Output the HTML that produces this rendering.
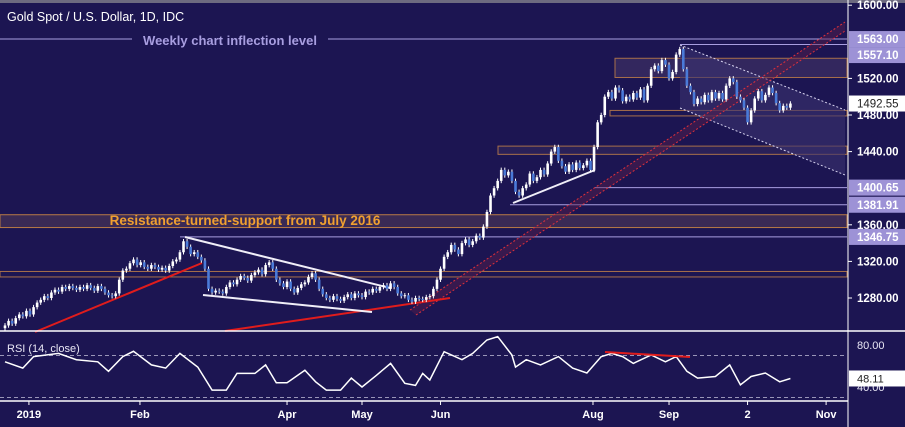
<!DOCTYPE html>
<html><head><meta charset="utf-8"><style>
html,body{margin:0;padding:0;background:#1c1552;}
svg{display:block;font-family:"Liberation Sans",sans-serif;}
</style></head><body>
<svg id="chart" width="905" height="427" viewBox="0 0 905 427">
<rect x="0" y="0" width="905" height="427" fill="#1c1552"/>
<rect x="0" y="0" width="905" height="3" fill="#6d6a80"/>
<g id="annot"></g>
<g id="candles"></g>
<g id="rsi"></g>
<g id="axis"></g>
</svg>
<script>
const NS="http://www.w3.org/2000/svg";
const closes=[1250,1255,1252,1258,1262,1260,1266,1262,1270,1275,1278,1282,1280,1286,1289,1287,1292,1290,1293,1291,1289,1292,1290,1294,1291,1288,1293,1290,1286,1283,1282,1285,1300,1310,1312,1318,1322,1316,1319,1314,1312,1316,1314,1311,1313,1310,1315,1320,1322,1330,1342,1336,1328,1330,1325,1321,1312,1290,1286,1288,1287,1285,1292,1297,1295,1300,1304,1302,1299,1305,1308,1311,1306,1316,1319,1312,1300,1296,1292,1298,1290,1286,1291,1295,1297,1303,1307,1300,1290,1284,1280,1278,1282,1279,1277,1281,1284,1280,1285,1283,1281,1287,1286,1290,1288,1292,1294,1290,1296,1292,1285,1282,1283,1278,1276,1280,1279,1278,1281,1282,1290,1300,1312,1325,1330,1338,1333,1328,1340,1344,1338,1342,1348,1346,1358,1374,1392,1400,1408,1420,1414,1418,1408,1396,1392,1400,1404,1416,1408,1412,1420,1415,1427,1440,1445,1430,1424,1418,1426,1420,1428,1422,1425,1430,1420,1445,1472,1480,1500,1505,1498,1510,1507,1495,1500,1497,1504,1499,1508,1496,1512,1530,1534,1528,1540,1535,1520,1527,1546,1552,1530,1512,1505,1492,1498,1494,1502,1496,1505,1498,1504,1497,1512,1520,1516,1500,1496,1488,1472,1485,1498,1506,1496,1502,1510,1504,1493,1485,1490,1488,1492.55];
const rsiDays=[0,5,8,15,20,26,29,33,36,41,45,49,54,58,62,65,70,73,76,79,84,87,90,94,97,100,104,108,112,115,117,119,123,128,131,135,138,142,143,146,150,155,159,163,167,170,173,176,181,185,188,191,194,199,203,206,209,213,217,220];
const rsiVals=[64,58,69,72,66,64,55,69,74,61,58,72,59,37,37,53,53,61,44,44,56,45,37,37,48.5,40,51,62.5,43.5,41.5,53,46.7,73.6,66,72,84.8,88,70.5,59,66,61,69,58,53.3,69,72,69,62.5,70.5,64,69,55,48.5,50,61,42,50,53.3,45,48.11];
const monthLabels=["2019","Feb","Apr","May","Jun","Aug","Sep","2","Nov"];
const monthDays=[6.7,37.8,79,100,122,164.7,186,208,230];
const priceTicks=[1600,1520,1480,1440,1360,1320,1280];
const levelLabels=[1563,1557.10,1400.65,1381.91,1346.75];
const rsiTicks=[80,40];

const X=i=>5+i*3.57;
const Y=p=>298-(p-1280)*0.915;
const RY=v=>345-(v-80)*1.05;

function el(tag,attrs,parent){const e=document.createElementNS(NS,tag);for(const k in attrs)e.setAttribute(k,attrs[k]);parent.appendChild(e);return e;}
const ann=document.getElementById('annot'),cg=document.getElementById('candles'),rg=document.getElementById('rsi'),ax=document.getElementById('axis');

let b;
b=el('rect',{x:0,y:Y(1371),width:847,height:Y(1357)-Y(1371),fill:'#3a2a55',stroke:'#b87a45','stroke-width':1},ann);


b=el('rect',{x:0,y:Y(1309),width:847,height:Y(1303)-Y(1309),fill:'none',stroke:'#a8704a','stroke-width':1},ann);


b=el('rect',{x:498,y:Y(1446),width:349,height:Y(1437)-Y(1446),fill:'#2a2058',stroke:'#a8704a','stroke-width':1},ann);


b=el('rect',{x:610,y:Y(1485),width:237,height:Y(1479)-Y(1485),fill:'none',stroke:'#a8704a','stroke-width':1},ann);


b=el('rect',{x:615,y:Y(1542),width:232,height:Y(1521)-Y(1542),fill:'#33275e',stroke:'#a8704a','stroke-width':1},ann);


b=el('polygon',{points:"680,45 845,110 845,175 680,108",fill:'#3a3270',opacity:0.6},ann);


[[680,45,845,110],[680,108,845,175]].forEach(l=>{const e=el('line',{x1:l[0],y1:l[1],x2:l[2],y2:l[3],stroke:'#d8d4f0','stroke-width':1,'stroke-dasharray':'2,2'},ann);

});
[[0,1563],[680,1557.10],[595,1400.65],[510,1381.91],[180,1346.75]].forEach(l=>{const e=el('line',{x1:l[0],y1:Y(l[1]),x2:847,y2:Y(l[1]),stroke:'#a89ee0','stroke-width':1},ann);

});
b=el('polygon',{points:"410,310 845,22 845,31 416,315",fill:'#5a1f4a',opacity:0.45},ann);


[[410,310,845,22],[416,315,845,31]].forEach(l=>{const e=el('line',{x1:l[0],y1:l[1],x2:l[2],y2:l[3],stroke:'#e0303a','stroke-width':1,'stroke-dasharray':'2,2'},ann);

});
[[35,332,202,263,'#e01c1c'],[225,331,450,298,'#e01c1c'],[185,237,390,288,'#f0eef8'],[203,295,372,312,'#f0eef8'],[513,203,595,170,'#f0eef8']].forEach(l=>{const e=el('line',{x1:l[0],y1:l[1],x2:l[2],y2:l[3],stroke:l[4],'stroke-width':2},ann);

});
let t=el('rect',{x:132,y:33,width:196,height:14,fill:'#1c1552'},ann);
t=el('text',{x:230,y:45,'text-anchor':'middle',fill:'#a89ee0','font-size':13,'font-weight':'bold'},ann);t.textContent='Weekly chart inflection level';


t=el('text',{x:245,y:225,'text-anchor':'middle',fill:'#f0a030','font-size':13.5,'font-weight':'bold'},ann);t.textContent='Resistance-turned-support from July 2016';


t=el('text',{x:7,y:21,fill:'#ffffff','font-size':12.5},ann);t.textContent='Gold Spot / U.S. Dollar, 1D, IDC';



closes.forEach((c,i)=>{
  const o=i?closes[i-1]:c-3;
  const up=c>=o, col=up?'#ffffff':'#4a7ad8';
  const x=X(i), hi=Math.max(o,c)+2.5, lo=Math.min(o,c)-2.5;
  const w=el('line',{x1:x,y1:Y(hi),x2:x,y2:Y(lo),stroke:'#ffffff','stroke-width':1},cg);
  
  
  const r=el('rect',{x:x-1.3,y:Y(Math.max(o,c)),width:2.6,height:Math.max(1,Math.abs(Y(o)-Y(c))),fill:col},cg);
  
  
});

let s=el('line',{x1:0,y1:331,x2:905,y2:331,stroke:'#ffffff','stroke-width':1.5},rg);


s=el('line',{x1:0,y1:401,x2:848,y2:401,stroke:'#ffffff','stroke-width':1.5},rg);


[70,30].forEach(v=>{const e=el('line',{x1:0,y1:RY(v),x2:847,y2:RY(v),stroke:'#9a96b8','stroke-width':1,'stroke-dasharray':'4,3'},rg);

});
const pts=rsiDays.map((d,i)=>X(d).toFixed(1)+','+RY(rsiVals[i]).toFixed(1)).join(' ');
let rl=el('polyline',{points:pts,fill:'none',stroke:'#ffffff','stroke-width':1.5},rg);


rl=el('line',{x1:605,y1:352,x2:690,y2:357,stroke:'#e01c1c','stroke-width':2},rg);


t=el('text',{x:7,y:352,fill:'#e8e6f4','font-size':11},rg);t.textContent='RSI (14, close)';



s=el('line',{x1:848,y1:0,x2:848,y2:427,stroke:'#ffffff','stroke-width':1},ax);


priceTicks.forEach(p=>{
  const y=Y(p);
  let k=el('line',{x1:848,y1:y,x2:852,y2:y,stroke:'#fff'},ax);
  
  
  k=el('text',{x:857,y:y+4,fill:'#ffffff','font-size':11.5,'font-weight':'bold'},ax);k.textContent=p.toFixed(2);
  
  
});
let prevY=-100;
levelLabels.forEach(p=>{
  let y=Y(p);
  if(y-prevY<16) y=prevY+16;
  prevY=y;
  let k=el('rect',{x:849,y:y-8,width:56,height:16,fill:'#9d92d6'},ax);
  
  
  k=el('text',{x:857,y:y+4,fill:'#ffffff','font-size':11.5,'font-weight':'bold'},ax);k.textContent=p.toFixed(2);
  
  
});
const last=closes[closes.length-1];
let lb=el('rect',{x:849,y:Y(last)-8,width:56,height:16,fill:'#ffffff'},ax);


lb=el('text',{x:857,y:Y(last)+4,fill:'#222','font-size':11.5},ax);lb.textContent=last.toFixed(2);


rsiTicks.forEach(v=>{
  const k=el('text',{x:857,y:RY(v)+4,fill:'#e8e6f4','font-size':11},ax);k.textContent=v.toFixed(2);
  
  
});
const lr=rsiVals[rsiVals.length-1];
lb=el('rect',{x:849,y:RY(lr)-8,width:56,height:16,fill:'#ffffff'},ax);


lb=el('text',{x:857,y:RY(lr)+4,fill:'#222','font-size':11},ax);lb.textContent=lr.toFixed(2);


monthLabels.forEach((m,i)=>{
  const x=X(monthDays[i]);
  let k=el('line',{x1:x,y1:401,x2:x,y2:405,stroke:'#fff'},ax);
  
  
  k=el('text',{x:x,y:418,'text-anchor':'middle',fill:'#ffffff','font-size':11,'font-weight':'bold'},ax);k.textContent=m;
  
  
});
</script>
</body></html>
